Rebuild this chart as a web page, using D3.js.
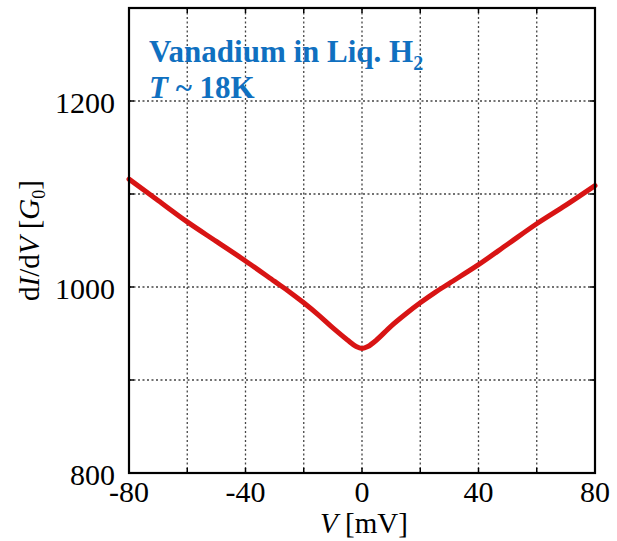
<!DOCTYPE html>
<html>
<head>
<meta charset="utf-8">
<script src="https://cdn.jsdelivr.net/npm/d3@7"></script>
<style>
  body { margin: 0; background: #fff; }
  svg { display: block; }
  text { font-family: "Liberation Serif", "Times New Roman", serif; }
</style>
</head>
<body>
<div id="chart"></div>
<script>
// data
const voltage = [-80, -70, -60, -50, -40, -30, -25, -20, -15, -10, -5, -2, 0, 2, 5, 10, 15, 20, 25, 30, 40, 50, 60, 70, 80];
const conductance = [1116, 1093, 1070, 1049, 1028, 1006, 995, 983, 970, 956, 943, 936, 934, 936, 943, 958, 971, 983, 994, 1004, 1024, 1046, 1068, 1088, 1109];
const xTickLabels = [-80, -40, 0, 40, 80];
const yTickLabels = [800, 1000, 1200];
const xGrid = [-60, -40, -20, 0, 20, 40, 60];
const yGrid = [900, 1000, 1100, 1200];

const W = 617, H = 541;
const pLeft = 129, pRight = 595, pTop = 8, pBottom = 473;

const svg = d3.select("#chart").append("svg")
  .attr("width", W)
  .attr("height", H);

const x = d3.scaleLinear().domain([-80, 80]).range([pLeft, pRight]);
const y = d3.scaleLinear().domain([800, 1300]).range([pBottom, pTop]);

// grid
svg.append("g").selectAll("line")
  .data(xGrid).enter().append("line")
  .attr("x1", d => x(d)).attr("x2", d => x(d))
  .attr("y1", pTop).attr("y2", pBottom)
  .style("stroke", "#444").style("stroke-width", 1.3)
  .style("stroke-dasharray", "2,2.5");

svg.append("g").selectAll("line")
  .data(yGrid).enter().append("line")
  .attr("y1", d => y(d)).attr("y2", d => y(d))
  .attr("x1", pLeft).attr("x2", pRight)
  .style("stroke", "#444").style("stroke-width", 1.3)
  .style("stroke-dasharray", "2,2.5");

// inward ticks on all sides
const tickLen = 5;
const ticks = svg.append("g").style("stroke", "#000").style("stroke-width", 1.5);
xGrid.forEach(function (d) {
  ticks.append("line").attr("x1", x(d)).attr("x2", x(d)).attr("y1", pBottom).attr("y2", pBottom - tickLen);
  ticks.append("line").attr("x1", x(d)).attr("x2", x(d)).attr("y1", pTop).attr("y2", pTop + tickLen);
});
yGrid.forEach(function (d) {
  ticks.append("line").attr("y1", y(d)).attr("y2", y(d)).attr("x1", pLeft).attr("x2", pLeft + tickLen);
  ticks.append("line").attr("y1", y(d)).attr("y2", y(d)).attr("x1", pRight).attr("x2", pRight - tickLen);
});

// curve
const line = d3.line()
  .x((d, i) => x(voltage[i]))
  .y(d => y(d))
  .curve(d3.curveCatmullRom.alpha(0.5));

svg.append("path")
  .datum(conductance)
  .attr("d", line)
  .style("fill", "none")
  .style("stroke", "#d81414")
  .style("stroke-width", 5)
  .style("stroke-linejoin", "round")
  .style("stroke-linecap", "round");

// frame
svg.append("rect")
  .attr("x", pLeft).attr("y", pTop)
  .attr("width", pRight - pLeft).attr("height", pBottom - pTop)
  .style("fill", "none").style("stroke", "#000").style("stroke-width", 2.2);

// tick labels
svg.append("g").selectAll("text")
  .data(xTickLabels).enter().append("text")
  .attr("x", d => x(d)).attr("y", 502)
  .attr("text-anchor", "middle")
  .style("font-size", "30px")
  .text(d => d);

svg.append("g").selectAll("text")
  .data(yTickLabels).enter().append("text")
  .attr("x", 115).attr("y", d => y(d) + 12)
  .attr("text-anchor", "end")
  .style("font-size", "30px")
  .text(d => d);

// axis titles
const xt = svg.append("text")
  .attr("x", 364).attr("y", 533)
  .attr("text-anchor", "middle")
  .style("font-size", "29px");
xt.append("tspan").style("font-style", "italic").text("V");
xt.append("tspan").text(" [mV]");

const yt = svg.append("text")
  .attr("transform", "translate(39," + ((pTop + pBottom) / 2) + ") rotate(-90)")
  .attr("text-anchor", "middle")
  .style("font-size", "29px");
yt.append("tspan").text("d");
yt.append("tspan").style("font-style", "italic").text("I");
yt.append("tspan").text("/d");
yt.append("tspan").style("font-style", "italic").text("V");
yt.append("tspan").text(" [");
yt.append("tspan").style("font-style", "italic").text("G");
yt.append("tspan").attr("dy", 6).style("font-size", "18px").text("0");
yt.append("tspan").attr("dy", -6).text("]");

// annotation
const blue = "#1070c0";
const t1 = svg.append("text")
  .attr("x", 149).attr("y", 62)
  .style("font-size", "31px").style("font-weight", "bold").style("fill", blue);
t1.append("tspan").text("Vanadium in Liq. H");
t1.append("tspan").attr("dy", 8).style("font-size", "20px").text("2");

const t2 = svg.append("text")
  .attr("x", 149).attr("y", 98)
  .style("font-size", "31px").style("font-weight", "bold").style("fill", blue);
t2.append("tspan").style("font-style", "italic").text("T");
t2.append("tspan").text(" ~ 18K");
</script>
</body>
</html>
